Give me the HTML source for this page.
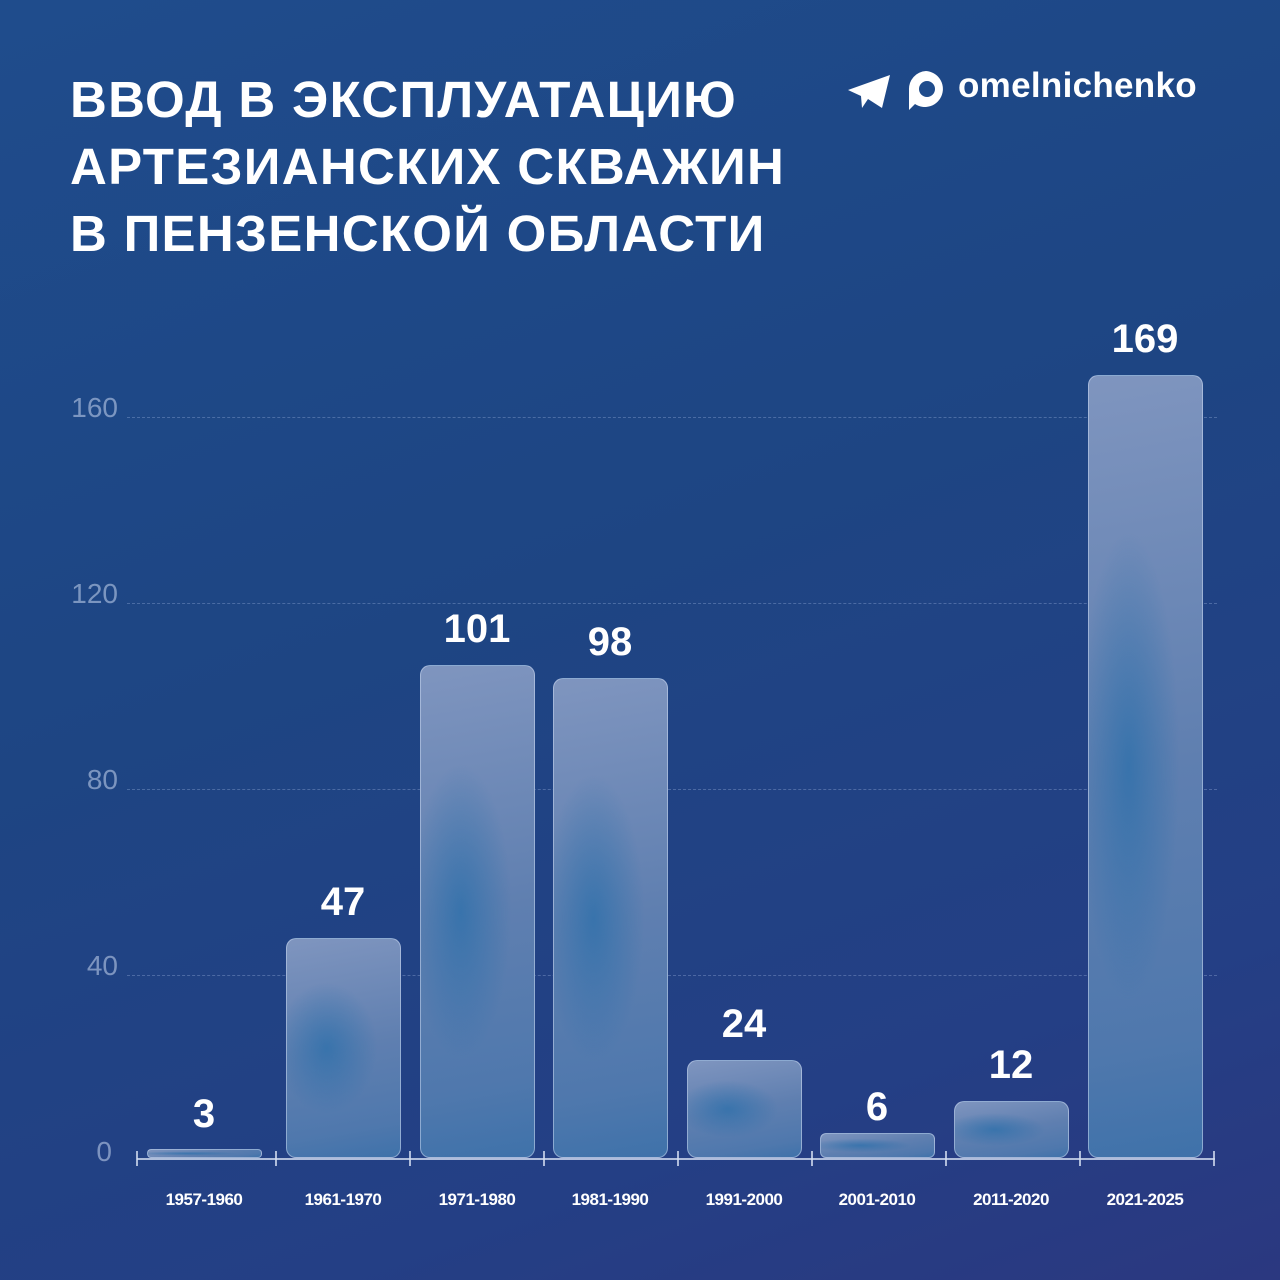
<!DOCTYPE html>
<html><head><meta charset="utf-8"><style>
html,body{margin:0;padding:0}
body{width:1280px;height:1280px;position:relative;overflow:hidden;font-family:"Liberation Sans","DejaVu Sans",sans-serif;
background:linear-gradient(160deg,#1f4c8c 0%,#1e4583 45%,#243f85 80%,#2b3880 100%);}
.t{position:absolute;left:70px;top:66px;color:#fff;font-weight:bold;font-size:51px;line-height:67px;letter-spacing:1.3px}
.logo{position:absolute;left:958px;top:66px;color:#fff;font-weight:bold;font-size:35px;letter-spacing:0.3px}
.yl{position:absolute;color:rgba(200,215,240,0.55);font-size:28px;width:60px;text-align:right;left:58px}
.g{position:absolute;left:127px;width:1090px;border-top:1.5px dashed rgba(180,200,240,0.3)}
.bar{position:absolute;width:115px;border-radius:10px;border:1.5px solid rgba(200,215,240,0.55);box-sizing:border-box;
background:radial-gradient(ellipse 45% 30% at 35% 50%,rgba(40,110,170,0.7),transparent),linear-gradient(170deg,#7f95bf 0%,#5f7fb0 50%,#4f78ad 85%,#3f72aa 100%);}
.v{position:absolute;width:134px;text-align:center;color:#fff;font-weight:bold;font-size:40px}
.x{position:absolute;top:1190px;width:134px;text-align:center;color:#fff;font-weight:bold;font-size:17px;letter-spacing:-0.5px}
.axis{position:absolute;left:137px;width:1078px;top:1158px;border-top:2px solid rgba(210,220,240,0.8)}
.tk{position:absolute;top:1151px;width:2px;height:15px;background:rgba(210,220,240,0.8)}
</style></head><body>
<div class="t">ВВОД В ЭКСПЛУАТАЦИЮ<br>АРТЕЗИАНСКИХ СКВАЖИН<br>В ПЕНЗЕНСКОЙ ОБЛАСТИ</div>
<svg style="position:absolute;left:846px;top:72px" width="48" height="40" viewBox="0 0 48 40"><path d="M2 18 L44 3 L36 36 L22 27 L16 36 L15 24 Z" fill="#fff"/></svg>
<svg style="position:absolute;left:905px;top:68px" width="42" height="44" viewBox="0 0 42 44"><path d="M21 3 A18 18 0 1 1 10 36 L4 42 L4 22 A18 18 0 0 1 21 3 Z" fill="#fff"/><circle cx="22" cy="21" r="8" fill="#1f4c8c"/></svg>
<div class="logo">omelnichenko</div>
<div class="g" style="top:417px"></div><div class="g" style="top:603px"></div><div class="g" style="top:789px"></div><div class="g" style="top:975px"></div>
<div class="yl" style="top:392px">160</div><div class="yl" style="top:578px">120</div><div class="yl" style="top:764px">80</div><div class="yl" style="top:950px">40</div><div class="yl" style="top:1136px;left:52px">0</div>
<div class="bar" style="left:147px;top:1149px;height:9px;border-radius:4px"></div>
<div class="bar" style="left:286px;top:938px;height:220px"></div>
<div class="bar" style="left:420px;top:665px;height:493px"></div>
<div class="bar" style="left:553px;top:678px;height:480px"></div>
<div class="bar" style="left:687px;top:1060px;height:98px"></div>
<div class="bar" style="left:820px;top:1133px;height:25px;border-radius:6px"></div>
<div class="bar" style="left:954px;top:1101px;height:57px"></div>
<div class="bar" style="left:1088px;top:375px;height:783px"></div>
<div class="v" style="left:137px;top:1092px">3</div>
<div class="v" style="left:276px;top:880px">47</div>
<div class="v" style="left:410px;top:607px">101</div>
<div class="v" style="left:543px;top:620px">98</div>
<div class="v" style="left:677px;top:1002px">24</div>
<div class="v" style="left:810px;top:1085px">6</div>
<div class="v" style="left:944px;top:1043px">12</div>
<div class="v" style="left:1078px;top:317px">169</div>
<div class="axis"></div>
<div class="tk" style="left:136px"></div><div class="tk" style="left:275px"></div><div class="tk" style="left:409px"></div><div class="tk" style="left:543px"></div><div class="tk" style="left:677px"></div><div class="tk" style="left:811px"></div><div class="tk" style="left:945px"></div><div class="tk" style="left:1079px"></div><div class="tk" style="left:1213px"></div>
<div class="x" style="left:137px">1957-1960</div>
<div class="x" style="left:276px">1961-1970</div>
<div class="x" style="left:410px">1971-1980</div>
<div class="x" style="left:543px">1981-1990</div>
<div class="x" style="left:677px">1991-2000</div>
<div class="x" style="left:810px">2001-2010</div>
<div class="x" style="left:944px">2011-2020</div>
<div class="x" style="left:1078px">2021-2025</div>
</body></html>
